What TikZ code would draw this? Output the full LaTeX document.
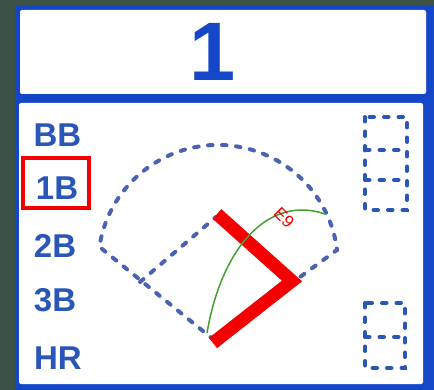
\documentclass[tikz,border=0pt]{standalone}
\usepackage{fontspec}
\newfontfamily\helv{Liberation Sans}
\definecolor{bggreen}{HTML}{3C5244}
\definecolor{frameblue}{HTML}{1446C8}
\definecolor{labblue}{HTML}{2A56B8}
\definecolor{dashblue}{HTML}{4A62B0}
\definecolor{hitred}{HTML}{F40000}
\definecolor{arcgreen}{HTML}{44A030}
\tikzset{
  lab/.style={inner sep=0pt, text=labblue, font=\helv\bfseries\fontsize{33}{33}\selectfont},
  fielddash/.style={draw=dashblue, line width=4pt, line cap=round, dash pattern=on 4.5pt off 9.5pt},
  basedash/.style={draw=labblue, line width=4pt, line cap=round, dash pattern=on 4.5pt off 10pt},
}
\begin{document}
\begin{tikzpicture}[x=1pt,y=-1pt]
\useasboundingbox (0,0) rectangle (434,390);
% background and card
\fill[bggreen] (0,0) rectangle (434,390);
\fill[frameblue] (15,5) rectangle (434,390);
\fill[white, rounded corners=2pt] (20,10) rectangle (426,94);
\fill[white, rounded corners=2pt] (19,103) rectangle (423,384);
% inning number
\node[inner sep=0pt, text=frameblue, font=\helv\bfseries\fontsize{83}{83}\selectfont] (num) at (213,52) {1};
% labels
\node[lab] (bb) at (57.5,135.5) {BB};
\node[lab] (b1) at (57,188) {1B};
\node[lab] (b2) at (55,245.5) {2B};
\node[lab] (b3) at (55,300.5) {3B};
\node[lab] (hr) at (58,358.5) {HR};
\draw[hitred, line width=3.5pt] (23,158) rectangle (89,208);
% field
\coordinate (H) at (214,340);
\coordinate (L) at (99.4,246.8);
\coordinate (R) at (337,250);
\coordinate (T) at (140,282);
\coordinate (S) at (216,217);
\draw[fielddash] (H) -- (L) arc[start angle=188.7, end angle=352.8, radius=120] -- (H);
\draw[fielddash] (T) -- (S);
% base boxes
\draw[basedash] (365,117) rectangle (407,210);
\draw[basedash] (365,150) -- (407,150);
\draw[basedash] (365,180) -- (407,180);
\draw[basedash] (365,303) rectangle (405,368);
\draw[basedash] (365,337) -- (405,337);
% runner path
\coordinate (P1) at (217,214);
\coordinate (P2) at (292,281);
\coordinate (P3) at (213,343);
\draw[hitred, line width=13pt, line join=miter] (P1) -- (P2) -- (P3);
% hit arc
\coordinate (A0) at (207,333);
\coordinate (A1) at (325,214);
\draw[arcgreen, line width=1.5pt] (A0) .. controls (222,245) and (270,195) .. (A1);
\node[inner sep=0pt, text=hitred, rotate=-45, font=\helv\fontsize{17}{17}\selectfont] (e9) at (284,218) {E9};
\end{tikzpicture}
\end{document}
